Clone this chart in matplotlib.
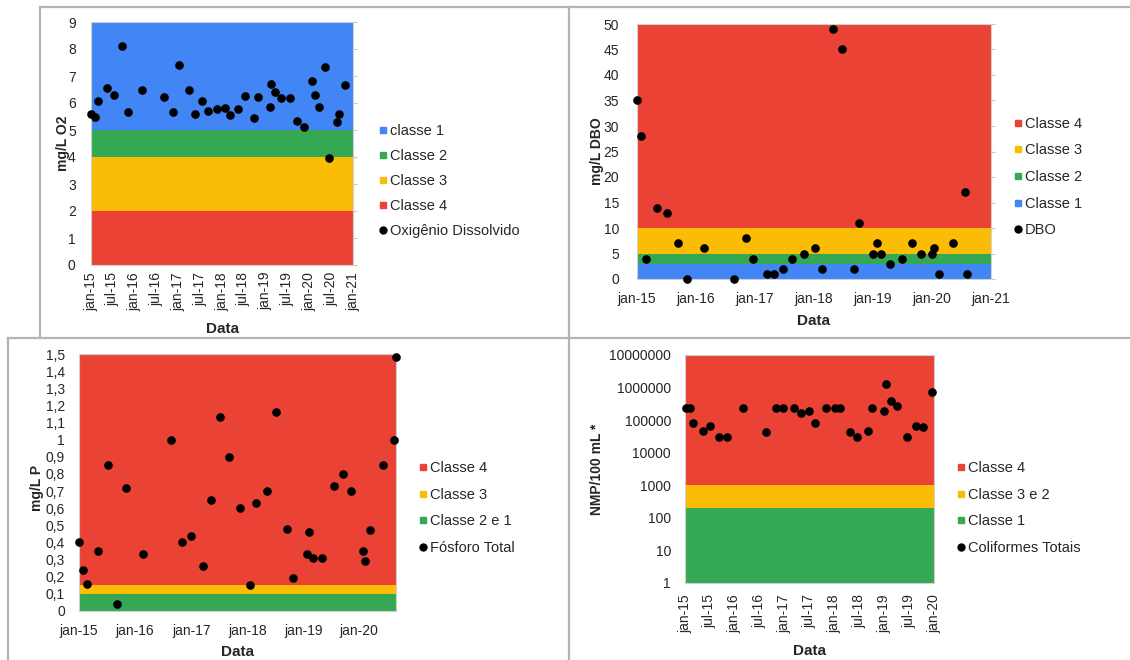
import matplotlib
matplotlib.use("Agg")
import matplotlib.pyplot as plt
import matplotlib.dates as mdates
from matplotlib.lines import Line2D
from matplotlib.ticker import FixedLocator, FuncFormatter
import pandas as pd

plt.rcParams['font.family'] = ['Liberation Sans', 'DejaVu Sans']
plt.rcParams['font.size'] = 10
plt.rcParams['text.color'] = '#262626'
plt.rcParams['axes.labelcolor'] = '#262626'
plt.rcParams['xtick.color'] = '#262626'
plt.rcParams['ytick.color'] = '#262626'

W, H = 1130, 660

BLUE = '#4285F4'
GREEN = '#34A853'
YELLOW = '#FBBC05'
RED = '#EA4335'

# --- Oxigenio dissolvido ---
od_dates = ['2015-01-02', '2015-02-06', '2015-03-04', '2015-05-16', '2015-07-13',
            '2015-09-20', '2015-11-10', '2016-03-06', '2016-09-05', '2016-11-13',
            '2017-01-05', '2017-03-29', '2017-05-19', '2017-07-16', '2017-09-06',
            '2017-11-22', '2018-01-27', '2018-03-12', '2018-05-16', '2018-07-13',
            '2018-09-24', '2018-10-30', '2019-02-03', '2019-02-17', '2019-03-18',
            '2019-05-12', '2019-07-27', '2019-09-24', '2019-11-21', '2020-01-26',
            '2020-02-21', '2020-03-21', '2020-05-08', '2020-06-13', '2020-08-18',
            '2020-09-05', '2020-10-30']
od_values = [5.6, 5.48, 6.09, 6.54, 6.29, 8.1, 5.65, 6.49, 6.22, 5.65,
             7.4, 6.5, 5.6, 6.09, 5.7, 5.77, 5.8, 5.56, 5.77, 6.25,
             5.44, 6.22, 5.86, 6.7, 6.39, 6.18, 6.18, 5.32, 5.11, 6.82,
             6.29, 5.85, 7.32, 3.96, 5.28, 5.6, 6.65]
od_bands = [(0, 2, RED, 'Classe 4'), (2, 4, YELLOW, 'Classe 3'),
            (4, 5, GREEN, 'Classe 2'), (5, 9, BLUE, 'classe 1')]
od_legend = ['classe 1', 'Classe 2', 'Classe 3', 'Classe 4']

# --- DBO ---
dbo_dates = ['2015-01-01', '2015-01-27', '2015-02-25', '2015-05-05', '2015-07-06',
             '2015-09-09', '2015-11-06', '2016-02-21', '2016-08-25', '2016-11-06',
             '2016-12-20', '2017-03-14', '2017-05-01', '2017-06-25', '2017-08-19',
             '2017-10-31', '2018-01-08', '2018-02-17', '2018-04-27', '2018-06-21',
             '2018-09-06', '2018-10-05', '2019-01-01', '2019-01-26', '2019-02-21',
             '2019-04-16', '2019-07-02', '2019-08-29', '2019-10-23', '2020-01-01',
             '2020-01-15', '2020-02-17', '2020-05-08', '2020-07-24', '2020-08-08']
dbo_values = [35, 28, 4, 14, 13, 7, 0, 6, 0, 8,
              4, 1, 1, 2, 4, 5, 6, 2, 49, 45,
              2, 11, 5, 7, 5, 3, 4, 7, 5, 5,
              6, 1, 7, 17, 1]
dbo_bands = [(0, 3, BLUE, 'Classe 1'), (3, 5, GREEN, 'Classe 2'),
             (5, 10, YELLOW, 'Classe 3'), (10, 50, RED, 'Classe 4')]
dbo_legend = ['Classe 4', 'Classe 3', 'Classe 2', 'Classe 1']

# --- Fosforo total ---
p_dates = ['2015-01-01', '2015-01-30', '2015-02-21', '2015-05-08', '2015-07-06',
           '2015-09-06', '2015-11-03', '2016-02-25', '2016-08-25', '2016-11-03',
           '2017-01-01', '2017-03-21', '2017-05-08', '2017-07-06', '2017-09-02',
           '2017-11-17', '2018-01-19', '2018-02-28', '2018-05-12', '2018-07-09',
           '2018-09-16', '2018-10-23', '2019-01-23', '2019-02-06', '2019-03-07',
           '2019-05-01', '2019-07-20', '2019-09-20', '2019-11-06', '2020-01-23',
           '2020-02-10', '2020-03-10', '2020-06-03', '2020-08-11', '2020-08-27']
p_values = [0.40, 0.24, 0.16, 0.35, 0.85, 0.04, 0.72, 0.33, 1.0, 0.40,
            0.44, 0.26, 0.65, 1.13, 0.90, 0.60, 0.15, 0.63, 0.70, 1.16,
            0.48, 0.19, 0.33, 0.46, 0.31, 0.31, 0.73, 0.80, 0.70, 0.35,
            0.29, 0.47, 0.85, 1.0, 1.48]
p_bands = [(0, 0.1, GREEN, 'Classe 2 e 1'), (0.1, 0.15, YELLOW, 'Classe 3'),
           (0.15, 1.5, RED, 'Classe 4')]
p_legend = ['Classe 4', 'Classe 3', 'Classe 2 e 1']

# --- Coliformes totais ---
col_dates = ['2015-01-06', '2015-02-06', '2015-02-28', '2015-05-10', '2015-07-06',
             '2015-09-06', '2015-11-03', '2016-02-28', '2016-08-18', '2016-10-30',
             '2016-12-20', '2017-03-10', '2017-04-27', '2017-06-25', '2017-08-11',
             '2017-10-31', '2018-01-04', '2018-02-13', '2018-04-23', '2018-06-13',
             '2018-09-02', '2018-10-03', '2018-12-30', '2019-01-15', '2019-02-19',
             '2019-04-05', '2019-06-18', '2019-08-19', '2019-10-12', '2019-12-20']
col_values = [240000, 240000, 84000, 46000, 65000, 30000, 30000, 240000, 43000, 240000,
              240000, 240000, 160000, 190000, 84000, 240000, 240000, 240000, 43000, 30000,
              46000, 240000, 190000, 1300000, 380000, 270000, 30000, 65000, 60000, 730000]
col_bands = [(1, 200, GREEN, 'Classe 1'), (200, 1000, YELLOW, 'Classe 3 e 2'),
             (1000, 1e7, RED, 'Classe 4')]
col_legend = ['Classe 4', 'Classe 3 e 2', 'Classe 1']

# tick positions / labels
half_year_ticks = ['2015-01-01', '2015-07-01', '2016-01-01', '2016-07-01', '2017-01-01',
                   '2017-07-01', '2018-01-01', '2018-07-01', '2019-01-01', '2019-07-01',
                   '2020-01-01', '2020-07-01', '2021-01-01']
half_year_labels = ['jan-15', 'jul-15', 'jan-16', 'jul-16', 'jan-17', 'jul-17', 'jan-18',
                    'jul-18', 'jan-19', 'jul-19', 'jan-20', 'jul-20', 'jan-21']
year_ticks = ['2015-01-01', '2016-01-01', '2017-01-01', '2018-01-01', '2019-01-01',
              '2020-01-01', '2021-01-01']
year_labels = ['jan-15', 'jan-16', 'jan-17', 'jan-18', 'jan-19', 'jan-20', 'jan-21']
p_yticks = [0.1 * i for i in range(16)]
p_ylabels = ['0', '0,1', '0,2', '0,3', '0,4', '0,5', '0,6', '0,7', '0,8', '0,9',
             '1', '1,1', '1,2', '1,3', '1,4', '1,5']
col_yticks = [1, 10, 100, 1000, 10000, 100000, 1000000, 10000000]


def px_axes(fig, x0, y0, x1, y1):
    return fig.add_axes([x0 / W, 1 - y1 / H, (x1 - x0) / W, (y1 - y0) / H])


def to_num(dates):
    return mdates.date2num(pd.to_datetime(dates))


def draw_panel(ax, dates, values, bands, legend_order, point_label):
    for lo, hi, color, label in bands:
        ax.axhspan(lo, hi, color=color, lw=0)
    ax.plot(to_num(dates), values, 'o', color='black', ms=5.2, clip_on=False, zorder=5)
    for s in ax.spines.values():
        s.set_color('#d0d0d0')
        s.set_linewidth(0.8)
    colors = {label: color for lo, hi, color, label in bands}
    handles = [Line2D([], [], marker='s', ls='none', color=colors[l], ms=5)
               for l in legend_order]
    handles.append(Line2D([], [], marker='o', ls='none', color='black', ms=5))
    return handles, legend_order + [point_label]


def place_legend(ax, fig, handles, labels, x, y, spacing):
    ax.legend(handles, labels, loc='center left',
              bbox_to_anchor=(x / W, 1 - y / H), bbox_transform=fig.transFigure,
              frameon=False, fontsize=10.5, handlelength=0.5, handletextpad=0.25,
              labelspacing=spacing, borderpad=0, borderaxespad=0)


def set_dates(ax, ticks, labels, rotation, pad):
    ax.xaxis.set_major_locator(FixedLocator(to_num(ticks)))
    ax.set_xticklabels(labels, rotation=rotation)
    ax.tick_params(axis='x', length=0, pad=pad)


fig = plt.figure(figsize=(W / 100, H / 100), dpi=100)

# panel frames
frame = dict(color='#b4b4b4', lw=1.6, transform=fig.transFigure)
for (xa, ya), (xb, yb) in [((40, 7), (W, 7)), ((40, 7), (40, 338)),
                           ((8, 338), (W, 338)), ((8, 338), (8, H)),
                           ((568.5, 7), (568.5, H))]:
    fig.add_artist(Line2D([xa / W, xb / W], [1 - ya / H, 1 - yb / H], **frame))

# Oxigenio dissolvido
ax1 = px_axes(fig, 91, 22, 353, 265)
h, l = draw_panel(ax1, od_dates, od_values, od_bands, od_legend, 'Oxigênio Dissolvido')
ax1.set_xlim(to_num(['2015-01-01', '2021-01-01']))
ax1.set_ylim(0, 9)
ax1.set_yticks(range(10))
set_dates(ax1, half_year_ticks, half_year_labels, 90, 5)
ax1.tick_params(axis='y', left=False, right=True, length=3, color='#c8c8c8', pad=8)
ax1.set_ylabel('mg/L O2', fontweight='bold', va='center')
ax1.yaxis.set_label_coords(-0.107, 0.5)
ax1.set_xlabel('Data', fontweight='bold', fontsize=11, va='center')
ax1.xaxis.set_label_coords(0.5, -0.263)
place_legend(ax1, fig, h, l, 379, 181, 0.75)

# DBO
ax2 = px_axes(fig, 637, 24, 991, 279)
h, l = draw_panel(ax2, dbo_dates, dbo_values, dbo_bands, dbo_legend, 'DBO')
ax2.set_xlim(to_num(['2015-01-01', '2021-01-01']))
ax2.set_ylim(0, 50)
ax2.set_yticks(range(0, 51, 5))
set_dates(ax2, year_ticks, year_labels, 0, 9)
ax2.tick_params(axis='y', left=False, right=True, length=3, color='#c8c8c8', pad=10)
ax2.set_ylabel('mg/L DBO', fontweight='bold', va='center')
ax2.yaxis.set_label_coords(-0.113, 0.5)
ax2.set_xlabel('Data', fontweight='bold', fontsize=11, va='center')
ax2.xaxis.set_label_coords(0.5, -0.165)
place_legend(ax2, fig, h, l, 1014, 177, 0.87)

# Fosforo total
ax3 = px_axes(fig, 79, 354, 396, 611)
h, l = draw_panel(ax3, p_dates, p_values, p_bands, p_legend, 'Fósforo Total')
ax3.set_xlim(to_num(['2015-01-01', p_dates[-1]]))
ax3.set_ylim(0, 1.5)
ax3.yaxis.set_major_locator(FixedLocator(p_yticks))
ax3.set_yticklabels(p_ylabels)
set_dates(ax3, year_ticks[:-1], year_labels[:-1], 0, 9)
ax3.tick_params(axis='y', length=0, pad=10)
ax3.set_ylabel('mg/L P', fontweight='bold', va='center')
ax3.yaxis.set_label_coords(-0.1325, 0.48)
ax3.set_xlabel('Data', fontweight='bold', fontsize=11, va='center')
ax3.xaxis.set_label_coords(0.5, -0.16)
place_legend(ax3, fig, h, l, 419, 508, 0.87)

# Coliformes totais
ax4 = px_axes(fig, 685, 355, 934, 583)
ax4.set_yscale('log')
h, l = draw_panel(ax4, col_dates, col_values, col_bands, col_legend, 'Coliformes Totais')
ax4.set_xlim(to_num(['2015-01-01', '2020-01-01']))
ax4.set_ylim(1, 1e7)
ax4.yaxis.set_major_locator(FixedLocator(col_yticks))
ax4.yaxis.set_major_formatter(FuncFormatter(lambda v, pos: f'{v:.0f}'))
ax4.yaxis.set_minor_locator(FixedLocator([]))
set_dates(ax4, half_year_ticks[:11], half_year_labels[:11], 90, 8)
ax4.tick_params(axis='y', length=0, pad=10)
ax4.set_ylabel('NMP/100 mL *', fontweight='bold', va='center')
ax4.yaxis.set_label_coords(-0.353, 0.5)
ax4.set_xlabel('Data', fontweight='bold', fontsize=11, va='center')
ax4.xaxis.set_label_coords(0.5, -0.3)
place_legend(ax4, fig, h, l, 957, 508, 0.87)

fig.savefig('out.png', dpi=100)
